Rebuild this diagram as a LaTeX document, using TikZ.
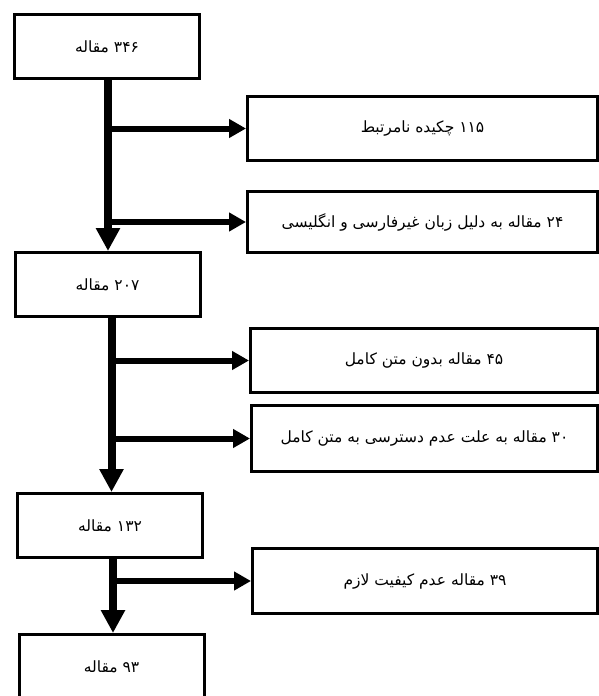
\documentclass[tikz,border=0pt]{standalone}
\usepackage{fontspec}
\newfontfamily\persianfont[Script=Arabic]{DejaVu Sans}
\TeXXeTstate=1
\usetikzlibrary{arrows.meta, positioning}

\begin{document}
\begin{tikzpicture}[x=1pt, y=1pt,
    mainbox/.style={rectangle, draw=black, line width=3pt,
                    minimum width=185pt, minimum height=64pt,
                    text centered, font=\persianfont\fontsize{15.5}{18}\selectfont},
    sidebox/.style={rectangle, draw=black, line width=3pt,
                    minimum height=64pt,
                    text centered, font=\persianfont\fontsize{15.5}{18}\selectfont},
    trunk/.style={-{Triangle[length=23pt, width=23pt]}, line width=8pt},
    branch/.style={-{Triangle[length=17pt, width=18pt]}, line width=6pt}
]
\useasboundingbox (0,0) rectangle (599,-696);

\node (n346) [mainbox] at (107,-46.5) {\beginR ۳۴۶ مقاله\endR};
\node (n207) [mainbox, below=171pt of n346, xshift=0.5pt] {\beginR ۲۰۷ مقاله\endR};
\node (n132) [mainbox, below=174pt of n207, xshift=2.5pt] {\beginR ۱۳۲ مقاله\endR};
\node (n93)  [mainbox, below=74pt of n132, xshift=1.5pt]  {\beginR ۹۳ مقاله\endR};

\node (s115) [sidebox, minimum width=350pt] at (422.5,-128.5) {\beginR ۱۱۵ چکیده نامرتبط\endR};
\node (s24)  [sidebox, minimum width=350pt, minimum height=61pt] at (422.5,-222) {\beginR ۲۴ مقاله به دلیل زبان غیرفارسی و انگلیسی\endR};
\node (s45)  [sidebox, minimum width=347pt] at (424,-360.5) {\beginR ۴۵ مقاله بدون متن کامل\endR};
\node (s30)  [sidebox, minimum width=346pt, minimum height=66pt] at (424.5,-438.5) {\beginR ۳۰ مقاله به علت عدم دسترسی به متن کامل\endR};
\node (s39)  [sidebox, minimum width=345pt, minimum height=65pt] at (425,-581) {\beginR ۳۹ مقاله عدم کیفیت لازم\endR};

% first stage
\draw [branch] ([xshift=1pt]n346.south |- s115.west) -- (s115.west);
\draw [branch] ([xshift=1pt]n346.south |- s24.west) -- (s24.west);
\draw [trunk] ([xshift=1pt]n346.south) -- ([xshift=1pt]n346.south |- n207.north);

% second stage
\draw [branch] ([xshift=4pt]n207.south |- s45.west) -- (s45.west);
\draw [branch] ([xshift=4pt]n207.south |- s30.west) -- (s30.west);
\draw [trunk] ([xshift=4pt]n207.south) -- ([xshift=4pt]n207.south |- n132.north);

% third stage
\draw [branch] ([xshift=3pt]n132.south |- s39.west) -- (s39.west);
\draw [trunk] ([xshift=3pt]n132.south) -- ([xshift=3pt]n132.south |- n93.north);
\end{tikzpicture}
\end{document}
